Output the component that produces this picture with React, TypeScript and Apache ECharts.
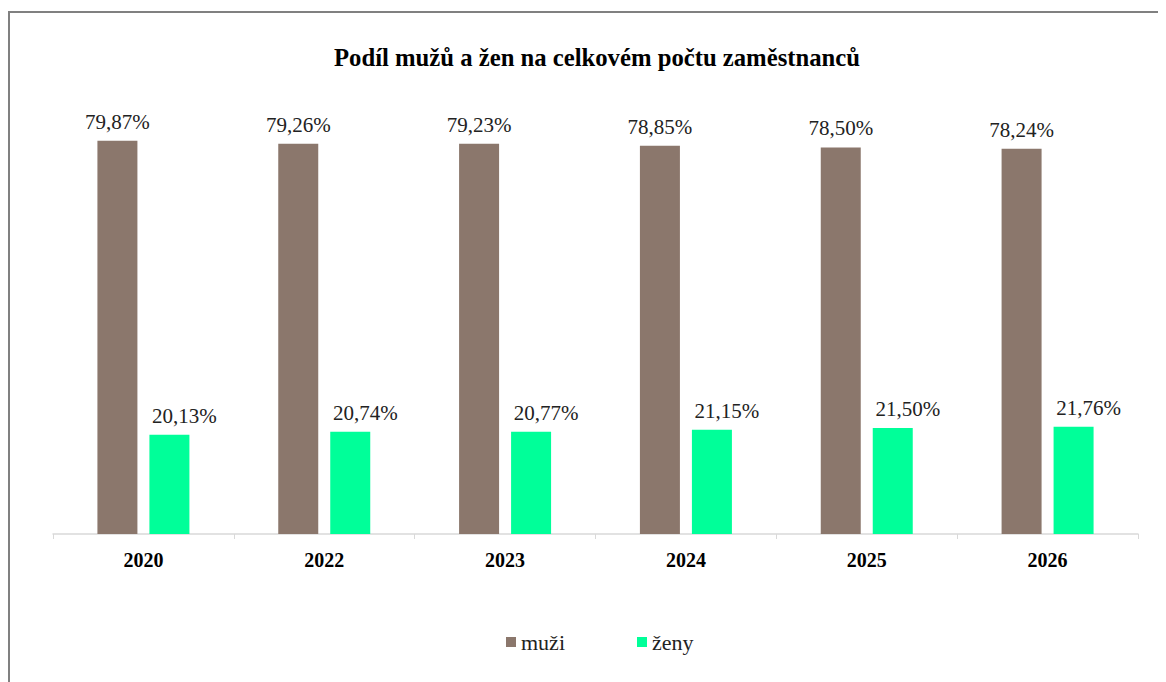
import React, { useEffect, useRef } from "react";
import * as echarts from "echarts";

const categories = ["2020", "2022", "2023", "2024", "2025", "2026"];
const muzi = [79.87, 79.26, 79.23, 78.85, 78.5, 78.24];
const zeny = [20.13, 20.74, 20.77, 21.15, 21.5, 21.76];
const seriesNames = ["muži", "ženy"];
const titleText = "Podíl mužů a žen na celkovém počtu zaměstnanců";

const FONT = "Liberation Serif";

const fmt = (v: number) => v.toFixed(2).replace(".", ",") + "%";

export default function App() {
  const ref = useRef<HTMLDivElement>(null);
  useEffect(() => {
    if (!ref.current) return;
    const chart = echarts.init(ref.current, undefined, { renderer: "svg" });
    const labelCfg = {
      show: true,
      position: "top" as const,
      distance: 8.5,
      fontFamily: FONT,
      fontSize: 21,
      color: "#222",
      formatter: (p: any) => fmt(p.value),
    };
    chart.setOption({
      animation: false,
      backgroundColor: "#fff",
      textStyle: { fontFamily: FONT },
      title: {
        text: titleText,
        left: 321,
        top: 32,
        textStyle: { fontFamily: FONT, fontSize: 24.7, fontWeight: "bold", color: "#000" },
      },
      graphic: [
        {
          type: "rect",
          shape: { x: 1, y: 4, width: 3000, height: 3000 },
          style: { fill: "none", stroke: "#808080", lineWidth: 2 },
          silent: true,
        },
      ],
      legend: {
        data: seriesNames,
        left: 493,
        top: 618,
        icon: "rect",
        itemWidth: 10,
        itemHeight: 10,
        itemGap: 72,
        textStyle: { fontFamily: FONT, fontSize: 22, color: "#222" },
      },
      grid: { left: 45, right: 28, top: 132, bottom: 148, containLabel: false },
      xAxis: {
        type: "category",
        data: categories,
        axisLine: { lineStyle: { color: "#d9d9d9", width: 1.5 } },
        axisTick: { show: true, length: 5, lineStyle: { color: "#d9d9d9" } },
        axisLabel: { fontFamily: FONT, fontSize: 20, fontWeight: "bold", color: "#000", margin: 16 },
      },
      yAxis: {
        type: "value",
        min: 0,
        max: 80,
        show: false,
        splitLine: { show: false },
      },
      series: [
        {
          name: seriesNames[0],
          type: "bar",
          data: muzi,
          barWidth: 40,
          barGap: "30%",
          itemStyle: { color: "#8B776C" },
          label: labelCfg,
        },
        {
          name: seriesNames[1],
          type: "bar",
          data: zeny,
          barWidth: 40,
          itemStyle: { color: "#00FF99" },
          label: { ...labelCfg, offset: [15, 0] },
        },
      ],
    });
    return () => chart.dispose();
  }, []);
  return <div ref={ref} style={{ width: 1158, height: 674 }} />;
}
